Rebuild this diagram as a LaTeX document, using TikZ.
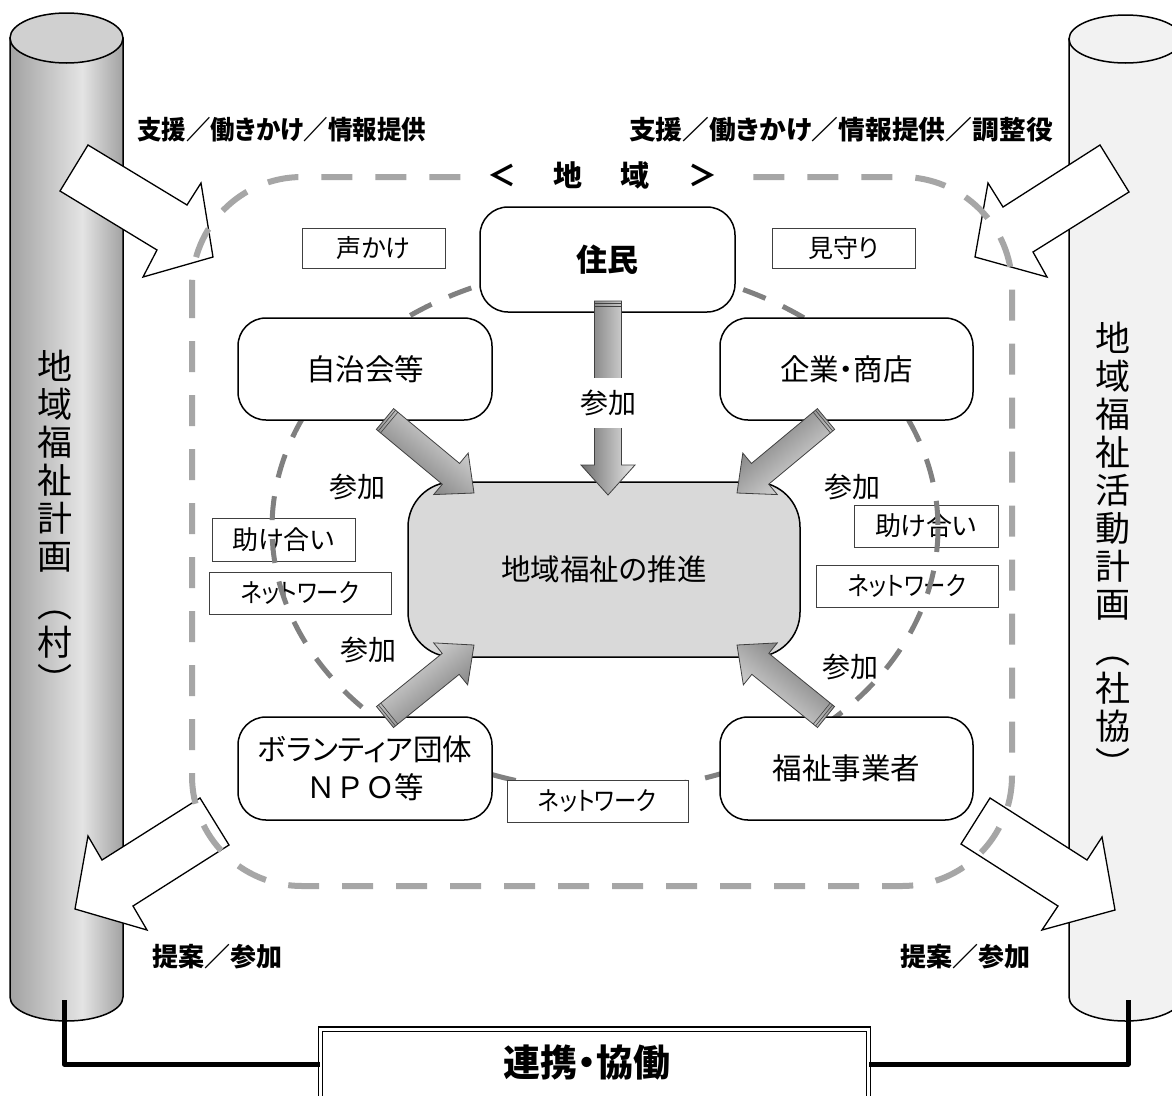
\documentclass[tikz,border=0pt]{standalone}
\usepackage{fontspec}
\setmainfont{Noto Sans CJK JP}[RawFeature=+palt]
\newfontfamily\jpfw{Noto Sans CJK JP}
\usetikzlibrary{calc}
\definecolor{outerdash}{HTML}{A6A6A6}
\definecolor{innerdash}{HTML}{808080}
\definecolor{centerfill}{HTML}{D9D9D9}
\definecolor{cylEdge}{HTML}{A2A2A2}
\definecolor{cylMid}{HTML}{E4E4E4}
\definecolor{cylTop}{HTML}{D0D0D0}
\definecolor{cylRight}{HTML}{F2F2F2}
\definecolor{gLight}{HTML}{E8E8E8}
\definecolor{gDark}{HTML}{6E6E6E}
\definecolor{lblline}{HTML}{404040}
\pgfdeclarehorizontalshading{cylshade}{100bp}{color(0bp)=(cylEdge); color(25bp)=(cylEdge); color(57bp)=(cylMid); color(75bp)=(cylEdge); color(100bp)=(cylEdge)}

\newcommand\gradarrow[3]{%
  \coordinate (ga-b) at ($(#2)!30pt!(#1)$);
  \shade[draw=black!75, line width=0.8, left color=gLight, right color=gDark, shading angle=#3]
    ($(#1)!13.5pt!90:(#2)$) -- ($(ga-b)!13.5pt!90:(#2)$) -- ($(ga-b)!27pt!90:(#2)$) -- (#2)
    -- ($(ga-b)!27pt!-90:(#2)$) -- ($(ga-b)!13.5pt!-90:(#2)$) -- ($(#1)!13.5pt!-90:(#2)$) -- cycle;
  \coordinate (ga-s1) at ($(#1)!2.5pt!(#2)$);
  \coordinate (ga-s2) at ($(#1)!5.5pt!(#2)$);
  \draw[black!75, line width=0.6] ($(ga-s1)!13.5pt!90:(#2)$) -- ($(ga-s1)!13.5pt!-90:(#2)$);
  \draw[black!75, line width=0.6] ($(ga-s2)!13.5pt!90:(#2)$) -- ($(ga-s2)!13.5pt!-90:(#2)$);
}
\newcommand\netw{\scalebox{0.86}[1]{ネットワーク}}

\begin{document}
\begin{tikzpicture}[x=1pt,y=-1pt,
  mainbox/.style={draw, line width=1.5, rounded corners=28, fill=white, inner sep=0,
    font=\fontsize{29.5}{38}\selectfont},
  lblbox/.style={draw=lblline, line width=0.9, fill=white, inner sep=0,
    font=\fontsize{26}{30}\selectfont},
  sanka/.style={inner sep=0, font=\fontsize{28}{32}\selectfont},
  boldlbl/.style={inner sep=0, font=\bfseries\fontsize{26}{30}\selectfont},
  vtext/.style={inner sep=0, align=center, font=\fontsize{35}{38}\selectfont},
  whitearrow/.style={draw, fill=white, line width=1.3, line join=miter},
  outerline/.style={draw=outerdash, line width=6, dash pattern=on 31 off 23},
  innerline/.style={draw=innerdash, line width=5, dash pattern=on 24 off 19},
  connector/.style={line width=5, line join=round}
]
\clip (0,0) rectangle (1172,1095);
\fill[white] (0,0) rectangle (1172,1095);

% left cylinder
\shade[draw, line width=1.5, shading=cylshade]
  (10,38) -- (10,997) arc[start angle=180, end angle=0, x radius=56.5, y radius=24] -- (123,38) -- cycle;
\draw[fill=cylTop, line width=1.5] (66.5,38) ellipse[x radius=56.5, y radius=25];
\coordinate (cylLbot) at (64,1000);
\node[vtext] (planL) at (55,522) {地\\域\\福\\祉\\計\\画\\[10pt]︵\\村\\︶};

% right cylinder
\draw[fill=cylRight, line width=1.5]
  (1069,39) -- (1069,997) arc[start angle=180, end angle=0, x radius=56.5, y radius=24] -- (1182,39) -- cycle;
\draw[fill=cylRight, line width=1.5] (1125.5,39) ellipse[x radius=56.5, y radius=24];
\coordinate (cylRbot) at (1128,1000);
\node[vtext] (planR) at (1113,550) {地\\域\\福\\祉\\活\\動\\計\\画\\[8pt]︵\\社\\協\\︶};

% big white arrows
\draw[whitearrow] (88,145) -- (187,205) -- (201,183) -- (213,257) -- (143,277) -- (157,250) -- (60,191) -- cycle;
\draw[whitearrow] (1100,145) -- (1003,207) -- (988,183) -- (975,257) -- (1047,277) -- (1033,252) -- (1129,192) -- cycle;
\draw[whitearrow] (200,798) -- (102,860) -- (88,836) -- (75,909) -- (147,930) -- (133,906) -- (229,845) -- cycle;
\draw[whitearrow] (990,798) -- (1087,860) -- (1102,837) -- (1115,910) -- (1042,930) -- (1058,906) -- (961,844) -- cycle;

% outer region
\draw[outerline, rounded corners=110] (192,177) rectangle (1012,886);
\node[fill=white, inner xsep=2, inner ysep=3, font=\bfseries\fontsize{29}{32}\selectfont] (chiiki) at (602,175)
  {\makebox[67pt]{＜}\makebox[67pt]{地}\makebox[67pt]{域}\makebox[67pt]{＞}};

% label boxes
\node[lblbox, minimum width=143, minimum height=40, font=\fontsize{25}{30}\selectfont] (koe) at (373.5,248) {声かけ};
\node[lblbox, minimum width=143, minimum height=40, font=\fontsize{25}{30}\selectfont] (mimamori) at (843.5,248) {見守り};
\node[lblbox, minimum width=143, minimum height=43] (tasuL) at (283.5,539.5) {助け合い};
\node[lblbox, minimum width=182, minimum height=42] (netL) at (300,593) {\netw};
\node[lblbox, minimum width=144, minimum height=42] (tasuR) at (926,526) {助け合い};
\node[lblbox, minimum width=182, minimum height=42] (netR) at (907,586) {\netw};

% inner circle
\draw[innerline] (605,528) ellipse[x radius=333, y radius=262];

\node[lblbox, minimum width=181, minimum height=42] (netB) at (597.5,801) {\netw};

% main boxes
\node[mainbox, minimum width=255, minimum height=105, font=\bfseries\fontsize{31}{36}\selectfont] (jumin) at (607.5,259.5) {住民};
\node[mainbox, minimum width=254, minimum height=102] (jichi) at (365,369) {自治会等};
\node[mainbox, minimum width=253, minimum height=102] (kigyo) at (846.5,369) {企業・商店};
\node[mainbox, fill=centerfill, rounded corners=45, minimum width=392, minimum height=175] (suishin) at (604,569.5) {地域福祉の推進};
\node[mainbox, minimum width=254, minimum height=103, align=center] (vol) at (365,768.5) {ボランティア団体\\{\jpfw ＮＰＯ等}};
\node[mainbox, minimum width=253, minimum height=103] (jigyo) at (846.5,768.5) {福祉事業者};

% gradient arrows
\coordinate (aCt) at (608,301);   \coordinate (aCp) at (608,495);
\coordinate (aULt) at (385,419);  \coordinate (aULp) at (474,493);
\coordinate (aURt) at (826,419);  \coordinate (aURp) at (737,493);
\coordinate (aLLt) at (385,717);  \coordinate (aLLp) at (474,645);
\coordinate (aLRt) at (826,717);  \coordinate (aLRp) at (737,645);
\gradarrow{aCt}{aCp}{-90}
\gradarrow{aULt}{aULp}{-39.7}
\gradarrow{aURt}{aURp}{-140.3}
\gradarrow{aLLt}{aLLp}{39}
\gradarrow{aLRt}{aLRp}{141}

% participation labels
\node[sanka, fill=white, minimum width=60, minimum height=50] (s0) at (608,403) {参加};
\node[sanka] (s1) at (357,487) {参加};
\node[sanka] (s2) at (368,650) {参加};
\node[sanka] (s3) at (852,487) {参加};
\node[sanka] (s4) at (850,667) {参加};

% bold labels
\node[boldlbl, anchor=west] (shienL) at (137,130) {\scalebox{0.94}[1]{支援／働きかけ／情報提供}};
\node[boldlbl, anchor=east] (shienR) at (1053,130) {\scalebox{1.03}[1]{支援／働きかけ／情報提供／調整役}};
\node[boldlbl] (teianL) at (217,957) {提案／参加};
\node[boldlbl] (teianR) at (965,957) {提案／参加};

% collaboration box
\node[draw, line width=1.3, double=white, double distance=3, minimum width=548, minimum height=82, inner sep=0] (renkei) at (594.5,1070) {};
\node[inner sep=0, font=\bfseries\fontsize{37}{40}\selectfont] (renkeiT) at (587,1062) {連携・協働};
\draw[connector] (cylLbot) |- ($(renkei.west)+(0,-6)$);
\draw[connector] (cylRbot) |- ($(renkei.east)+(0,-6)$);
\end{tikzpicture}
\end{document}
